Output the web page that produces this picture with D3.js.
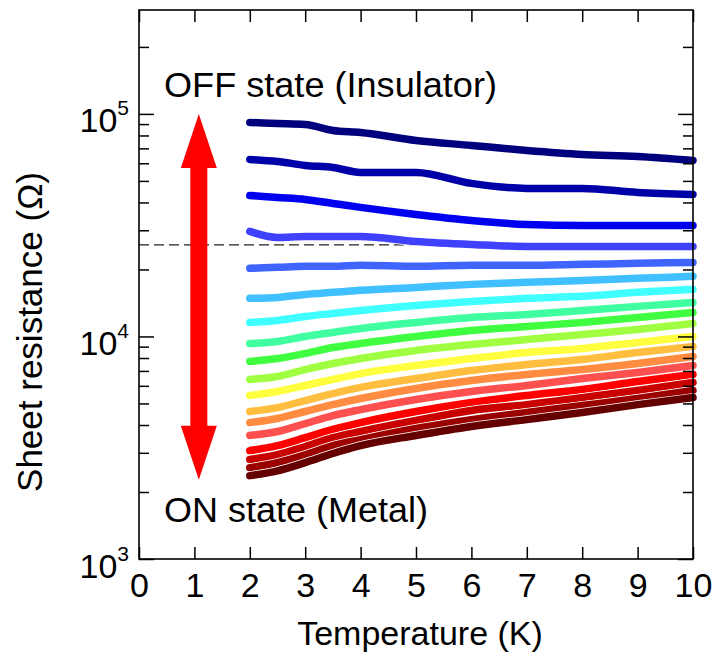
<!DOCTYPE html>
<html>
<head>
<meta charset="utf-8">
<script src="https://cdn.jsdelivr.net/npm/d3@7"></script>
<style>
  body { margin: 0; background: #fff; }
  svg text { font-family: "Liberation Sans", Arial, sans-serif; fill: #000; }
</style>
</head>
<body>
<div id="chart"></div>
<script>
// temperature grid (K) shared by every curve
const temps = [2, 2.5, 3, 3.5, 4, 5, 6, 7, 8, 9, 10];

// sheet resistance (ohm) per gate step, top (insulating) to bottom (metallic)
const r01 = [91580, 90630, 89700, 84290, 82570, 76010, 72170, 68530, 65770, 64420, 61810];
const r02 = [62450, 61160, 58680, 57480, 54600, 54600, 48720, 46260, 46260, 44380, 43470];
const r03 = [43020, 42140, 41280, 39600, 38010, 35340, 33210, 31860, 31530, 31530, 31530];
const r04 = [29640, 27860, 28150, 28150, 28150, 26730, 25910, 25380, 25380, 25380, 25380];
const r05 = [20230, 20440, 20650, 20650, 20870, 20650, 20870, 20870, 21080, 21300, 21520];
const r06 = [14830, 14980, 15450, 15780, 16110, 16610, 17140, 17500, 17860, 18240, 18620];
const r07 = [11560, 11800, 12300, 12690, 13090, 13790, 14370, 14830, 15140, 15780, 16270];
const r08 = [9300, 9500, 10000, 10420, 10860, 11560, 12170, 12560, 13090, 13650, 14220];
const r09 = [7720, 7960, 8390, 8920, 9300, 10000, 10640, 11090, 11560, 12170, 12820];
const r10 = [6410, 6610, 7100, 7560, 7960, 8650, 9200, 9690, 10210, 10750, 11440];
const r11 = [5430, 5660, 6020, 6410, 6810, 7400, 7960, 8470, 8830, 9400, 10000];
const r12 = [4600, 4790, 5150, 5540, 5900, 6470, 7030, 7480, 7880, 8470, 9020];
const r13 = [4100, 4280, 4600, 4940, 5260, 5840, 6340, 6750, 7100, 7560, 8130];
const r14 = [3590, 3740, 4060, 4410, 4690, 5210, 5660, 6020, 6470, 6890, 7400];
const r15 = [3070, 3230, 3510, 3820, 4100, 4600, 5050, 5430, 5780, 6270, 6750];
const r16 = [2800, 2940, 3200, 3510, 3740, 4190, 4650, 4940, 5310, 5720, 6210];
const r17 = [2570, 2710, 2940, 3230, 3440, 3860, 4230, 4550, 4890, 5260, 5720];
const r18 = [2370, 2490, 2710, 2980, 3230, 3590, 3940, 4230, 4550, 4940, 5310];

const curveColors = ['#00007e', '#0000a8', '#0000f0', '#4040ff', '#4064ff', '#40c0ff',
  '#40ffff', '#40ffa0', '#40ff40', '#a0ff40', '#ffff40', '#ffbe40',
  '#ff8c40', '#ff5050', '#ff0000', '#c80000', '#9a0000', '#640000'];

const xTicks = [0, 1, 2, 3, 4, 5, 6, 7, 8, 9, 10];
const yMajor = [1e3, 1e4, 1e5];
const yExp = ['3', '4', '5'];
const quantumR = 25813;          // h/e^2 dashed line
const arrowT = 1.08;             // double arrow position
const arrowR = [2270, 100000];   // arrow tips

const width = 717, height = 655;
const margin = {top: 10, right: 24, bottom: 96, left: 139};
const plotW = width - margin.left - margin.right;
const plotH = height - margin.top - margin.bottom;

const svg = d3.select('#chart').append('svg')
  .attr('width', width)
  .attr('height', height);

const x = d3.scaleLinear().domain([0, 10]).range([margin.left, margin.left + plotW]);
const y = d3.scaleLog().domain([1000, 293000]).range([margin.top + plotH, margin.top]);

// minor log ticks
const yMinor = [];
[1e3, 1e4, 1e5].forEach(dec => {
  for (let k = 2; k <= 9; k++) if (dec * k < 293000) yMinor.push(dec * k);
});

// dashed h/e^2 line (under curves)
svg.append('line')
  .attr('x1', x(0)).attr('x2', x(10))
  .attr('y1', y(quantumR)).attr('y2', y(quantumR))
  .attr('stroke', '#222').attr('stroke-width', 1.3)
  .attr('stroke-dasharray', '10,5');

// curves
const allR = [r01, r02, r03, r04, r05, r06, r07, r08, r09, r10, r11, r12, r13, r14, r15, r16, r17, r18];
const line = d3.line()
  .x((d, i) => x(temps[i]))
  .y(d => y(d))
  .curve(d3.curveMonotoneX);

const cg = svg.append('g');
allR.forEach((r, i) => {
  cg.append('path')
    .attr('d', line(r))
    .attr('fill', 'none')
    .attr('stroke', '#fff')
    .attr('stroke-width', 9)
    .attr('stroke-linecap', 'round')
    .attr('stroke-linejoin', 'round');
  cg.append('path')
    .attr('d', line(r))
    .attr('fill', 'none')
    .attr('stroke', curveColors[i])
    .attr('stroke-width', 7.5)
    .attr('stroke-linecap', 'round')
    .attr('stroke-linejoin', 'round');
});

// red double arrow
const ax = x(arrowT), yTop = y(arrowR[1]), yBot = y(arrowR[0]);
const headL = 54, headW = 18, shaftW = 8.5;
svg.append('path')
  .attr('d', `M${ax},${yTop} L${ax + headW},${yTop + headL} L${ax + shaftW},${yTop + headL}
    L${ax + shaftW},${yBot - headL} L${ax + headW},${yBot - headL} L${ax},${yBot}
    L${ax - headW},${yBot - headL} L${ax - shaftW},${yBot - headL} L${ax - shaftW},${yTop + headL}
    L${ax - headW},${yTop + headL} Z`)
  .attr('fill', '#ff0000');

// axes
const axisStyle = g => {
  g.select('.domain').remove();
  g.selectAll('line').attr('stroke', '#000').attr('stroke-width', 1.5);
};

svg.append('g')
  .attr('transform', `translate(0,${margin.top + plotH})`)
  .call(d3.axisBottom(x).tickValues(xTicks).tickSize(-12).tickPadding(14).tickFormat(d3.format('d')))
  .call(axisStyle)
  .call(g => g.selectAll('text').attr('font-size', 34));

svg.append('g')
  .attr('transform', `translate(0,${margin.top})`)
  .call(d3.axisTop(x).tickValues(xTicks).tickSize(-12).tickFormat(''))
  .call(axisStyle);

const leftMajor = svg.append('g')
  .attr('transform', `translate(${margin.left},0)`)
  .call(d3.axisLeft(y).tickValues(yMajor).tickSize(-15).tickPadding(10).tickFormat(''))
  .call(axisStyle);

leftMajor.selectAll('.tick text')
  .attr('font-size', 34)
  .attr('dy', 18)
  .each(function(d, i) {
    const t = d3.select(this);
    t.append('tspan').text('10');
    t.append('tspan').text(yExp[i]).attr('font-size', 21).attr('dy', -17);
  });

svg.append('g')
  .attr('transform', `translate(${margin.left},0)`)
  .call(d3.axisLeft(y).tickValues(yMinor).tickSize(-10).tickFormat(''))
  .call(axisStyle);

svg.append('g')
  .attr('transform', `translate(${margin.left + plotW},0)`)
  .call(d3.axisRight(y).tickValues(yMajor).tickSize(-15).tickFormat(''))
  .call(axisStyle);

svg.append('g')
  .attr('transform', `translate(${margin.left + plotW},0)`)
  .call(d3.axisRight(y).tickValues(yMinor).tickSize(-10).tickFormat(''))
  .call(axisStyle);

// frame
svg.append('rect')
  .attr('x', margin.left).attr('y', margin.top)
  .attr('width', plotW).attr('height', plotH)
  .attr('fill', 'none').attr('stroke', '#000').attr('stroke-width', 1.6);

// axis titles
svg.append('text')
  .text('Temperature (K)')
  .attr('x', margin.left + plotW / 2 + 4)
  .attr('y', 645)
  .attr('text-anchor', 'middle')
  .attr('font-size', 34);

svg.append('text')
  .text('Sheet resistance (\u03A9)')
  .attr('transform', `translate(42, 332) rotate(-90)`)
  .attr('text-anchor', 'middle')
  .attr('font-size', 35);

// annotations
svg.append('text')
  .text('OFF state (Insulator)')
  .attr('x', 164).attr('y', 97)
  .attr('font-size', 35)
  .attr('textLength', 333)
  .attr('lengthAdjust', 'spacingAndGlyphs');

svg.append('text')
  .text('ON state (Metal)')
  .attr('x', 164).attr('y', 522)
  .attr('font-size', 35)
  .attr('textLength', 264)
  .attr('lengthAdjust', 'spacingAndGlyphs');
</script>
</body>
</html>
